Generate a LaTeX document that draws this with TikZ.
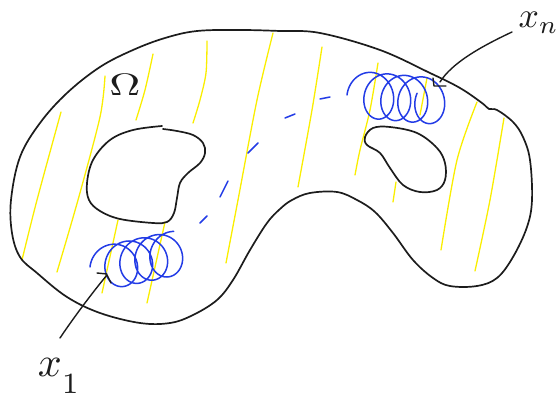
\documentclass[tikz,border=0pt]{standalone}
\definecolor{ink}{RGB}{28,28,28}
\definecolor{ylw}{RGB}{250,238,0}
\definecolor{blu}{RGB}{35,60,230}
\begin{document}
\begin{tikzpicture}[x=1pt,y=-1pt, line cap=round, line join=round,
  outline/.style={draw=ink, line width=1.7pt},
  pointer/.style={draw=ink, line width=1.4pt},
  hatch/.style={draw=ylw, line width=1.3pt},
  coil/.style={draw=blu, line width=1.5pt},
  lbl/.style={scale=4.2, inner sep=0pt, text=ink}]
\useasboundingbox (0,0) rectangle (560,401);
\clip (0,0) rectangle (560,401);

% yellow hatching
\draw[hatch] plot[smooth] coordinates {(61,112) (37,200) (22,260)};
\draw[hatch] plot[smooth] coordinates {(105,76) (100,117) (78,200) (57,272)};
\draw[hatch] plot[smooth] coordinates {(153,54) (145,90) (136,120)};
\draw[hatch] plot[smooth] coordinates {(207,41) (206,73) (200,100) (193,123)};
\draw[hatch] plot[smooth] coordinates {(273,33) (257,100) (238,200) (226,263)};
\draw[hatch] plot[smooth] coordinates {(322,47) (312,110) (298,187)};
\draw[hatch] plot[smooth] coordinates {(378,63) (370,110) (360,150) (355,175)};
\draw[hatch] plot[smooth] coordinates {(427,78) (420,115)};
\draw[hatch] plot[smooth] coordinates {(477,102) (457,160) (441,250)};
\draw[hatch] plot[smooth] coordinates {(504,118) (490,200) (475,271)};
\draw[hatch] plot[smooth] coordinates {(396,182) (393,202)};
\draw[hatch] plot[smooth] coordinates {(118,220) (102,293)};
\draw[hatch] plot[smooth] coordinates {(165,222) (147,303)};

% outer boundary
\draw[outline] plot[smooth cycle, tension=0.6] coordinates {
 (197,31) (240,30) (280,31) (320,33) (380,50) (430,73) (460,88) (482,103)
 (489,109) (497,110) (513,122) (523,137) (530,160) (532,200) (527,227)
 (513,257) (497,278) (477,286) (450,286) (433,278) (413,260) (393,233)
 (375,212) (357,200) (337,192) (310,193) (292,200) (280,209) (267,223)
 (250,250) (233,280) (217,300) (193,315) (170,323) (140,323) (100,313)
 (67,297) (37,273) (20,257) (12,233) (11,200) (20,157) (40,123) (67,93)
 (100,67) (133,50) (165,38)};

% left hole (two strokes with a small break at the top)
\draw[outline] plot[smooth, tension=0.6] coordinates {
 (162,126) (133,130) (110,140) (93,160) (87,183) (89,200) (100,211)
 (120,219) (153,223) (167,222) (174,213) (177,198) (180,183) (188,173)
 (200,163) (205,153) (203,143) (193,135) (177,131) (163,129)};

% right hole
\draw[outline] plot[smooth cycle, tension=0.6] coordinates {
 (365,137) (373,128) (390,127) (417,133) (437,148) (445,163) (445,180)
 (437,190) (420,192) (403,185) (390,168) (380,153) (367,145)};

% Omega
\node[inner sep=0pt, text=ink, xscale=4.3, yscale=3.1] (om) at (125,85) {$\Omega$};

% blue coils
\draw[coil] plot[domain=0:1530, samples=320, smooth, variable=\t]
  ({110 + 15*(\t/360) - 20*cos(\t)}, {267 - 3.2*(\t/360) - 22*sin(\t)});
\draw[coil] plot[domain=0:1460, samples=320, smooth, variable=\t]
  ({366 + 17*(\t/360) - 19*cos(\t)}, {95 + 1.5*(\t/360) - 23*sin(\t)});

% dashed blue path
\draw[coil] (200,223) -- (207,216);
\draw[coil] (220,197) -- (228,181);
\draw[coil] (248,153) -- (258,143);
\draw[coil] (285,118) -- (295,114);
\draw[coil] (320,99) -- (330,97);

% labels
\node[lbl, anchor=base west] (x1) at (37,376) {$x^{}_{\raisebox{-1.8pt}{$\scriptstyle 1$}}$};
\node[lbl, scale=0.85, anchor=base west] (xn) at (518,28) {$x_n$};

% pointer to x_1
\coordinate (p1) at (60,338);
\coordinate (t1) at (107,275);
\draw[pointer] (p1) .. controls (72,320) and (92,293) .. (t1);
\draw[pointer] (97,273) -- (107,274);
\draw[pointer] (107,275) -- (111,283);

% pointer to x_n
\coordinate (pn) at (512,32);
\coordinate (tn) at (440,82);
\draw[pointer] (pn) .. controls (480,47) and (452,63) .. (tn);
\draw[pointer] (433,78) -- (434,86) -- (446,86);
\end{tikzpicture}
\end{document}
